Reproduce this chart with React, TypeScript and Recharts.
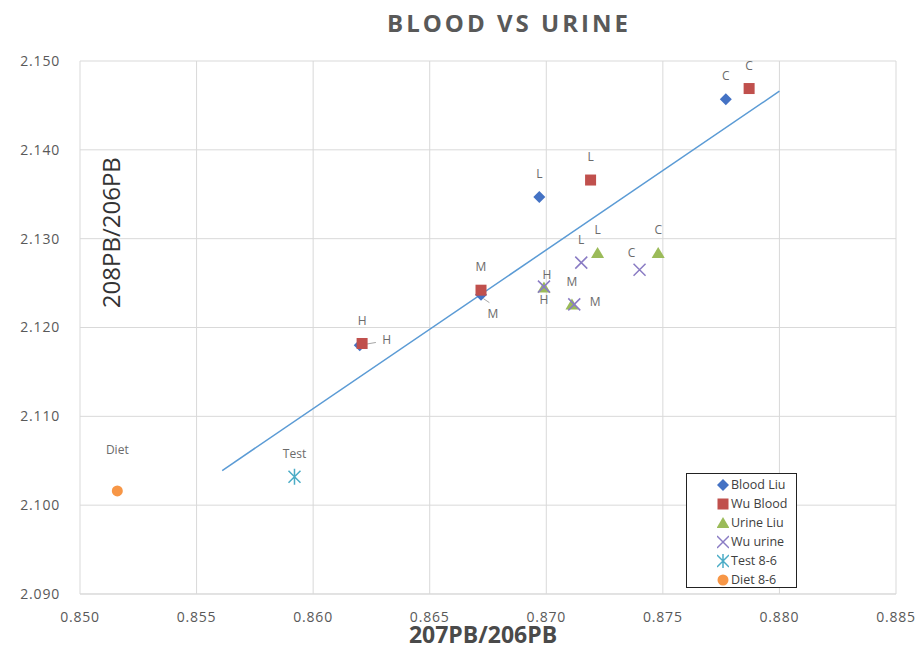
import React from 'react';
import { ScatterChart, Scatter, XAxis, YAxis, CartesianGrid } from 'recharts';

const bloodLiuX = [0.8777, 0.8697, 0.8672, 0.862];
const bloodLiuY = [2.1457, 2.1347, 2.1237, 2.118];
const bloodLiuTags = ['C', 'L', 'M', 'H'];

const wuBloodX = [0.8787, 0.8719, 0.8672, 0.8621];
const wuBloodY = [2.1469, 2.1366, 2.1242, 2.1182];
const wuBloodTags = ['C', 'L', 'M', 'H'];

const urineLiuX = [0.8722, 0.8748, 0.8699, 0.8711];
const urineLiuY = [2.1284, 2.1284, 2.1245, 2.1226];
const urineLiuTags = ['L', 'C', 'H', 'M'];

const wuUrineX = [0.8715, 0.874, 0.8699, 0.8712];
const wuUrineY = [2.1273, 2.1265, 2.1246, 2.1226];
const wuUrineTags = ['L', 'C', 'H', 'M'];

const testX = [0.8592];
const testY = [2.1032];
const testTags = ['Test'];

const dietX = [0.8516];
const dietY = [2.1016];
const dietTags = ['Diet'];

const trendX = [0.8561, 0.88];
const trendY = [2.1039, 2.1466];

const xTicks = [0.85, 0.855, 0.86, 0.865, 0.87, 0.875, 0.88, 0.885];
const yTicks = [2.09, 2.1, 2.11, 2.12, 2.13, 2.14, 2.15];

const seriesNames = ['Blood Liu', 'Wu Blood', 'Urine Liu', 'Wu urine', 'Test 8-6', 'Diet 8-6'];

const build = (xs: number[], ys: number[], tags?: string[]) =>
  xs.map((x, i) => ({ x, y: ys[i], tag: tags ? tags[i] : '' }));

// label offsets relative to marker centre: [dx, dy, leader]
const placeDefault: [number, number, boolean] = [0, -22, false];
const placements: Record<string, Record<string, [number, number, boolean]>> = {
  'Blood Liu': { M: [12, 20, true], H: [23, -4, true] },
  'Urine Liu': { H: [3, -12, false] },
  'Wu urine': { H: [0, 14, false], M: [21, -2, false], C: [-8, -16, false] },
  'Diet 8-6': { Diet: [0, -40, false] },
};

const C = {
  blue: '#4472c4',
  red: '#c0504d',
  green: '#9bbb59',
  purple: '#8a7cc4',
  cyan: '#4bacc6',
  orange: '#f79646',
};

const Marker = ({ kind, cx, cy }: { kind: string; cx: number; cy: number }) => {
  switch (kind) {
    case 'Blood Liu':
      return <path d={`M${cx},${cy - 6}L${cx + 6},${cy}L${cx},${cy + 6}L${cx - 6},${cy}Z`} fill={C.blue} />;
    case 'Wu Blood':
      return <rect x={cx - 5.5} y={cy - 5.5} width={11} height={11} fill={C.red} />;
    case 'Urine Liu':
      return <path d={`M${cx},${cy - 6}L${cx + 6.5},${cy + 5}L${cx - 6.5},${cy + 5}Z`} fill={C.green} />;
    case 'Wu urine':
      return (
        <path d={`M${cx - 6},${cy - 6}L${cx + 6},${cy + 6}M${cx + 6},${cy - 6}L${cx - 6},${cy + 6}`} stroke={C.purple} strokeWidth={1.5} />
      );
    case 'Test 8-6':
      return (
        <path
          d={`M${cx - 6},${cy - 6}L${cx + 6},${cy + 6}M${cx + 6},${cy - 6}L${cx - 6},${cy + 6}M${cx},${cy - 8}L${cx},${cy + 8}`}
          stroke={C.cyan}
          strokeWidth={1.5}
        />
      );
    default:
      return <circle cx={cx} cy={cy} r={5.5} fill={C.orange} />;
  }
};

const makeShape = (kind: string) => (props: any) => {
  const { cx, cy, payload } = props;
  const [dx, dy, leader] = (placements[kind] && placements[kind][payload.tag]) || placeDefault;
  return (
    <g>
      <Marker kind={kind} cx={cx} cy={cy} />
      {leader && (
        <line x1={cx + dx * 0.2} y1={cy + dy * 0.2} x2={cx + dx * 0.7} y2={cy + dy * 0.7 - (dy > 0 ? 6 : 0)} stroke="#a6a6a6" strokeWidth={1} />
      )}
      <text
        x={cx + dx + (leader && dy < 0 ? 4 : 0)}
        y={cy + dy}
        textAnchor="middle"
        dominantBaseline="middle"
        fontSize={12}
        fontFamily="Open Sans"
        fill="#6b6b6b"
      >
        {payload.tag}
      </text>
    </g>
  );
};

const LegendBox = () => (
  <div
    style={{
      position: 'absolute',
      left: 686,
      top: 473,
      border: '1.5px solid #222',
      background: '#fff',
      width: 111,
      height: 115,
      padding: '1px 0 0 0',
      fontFamily: 'Open Sans',
      fontSize: 12.5,
      color: '#404040',
      boxSizing: 'border-box',
    }}
  >
    {seriesNames.map((name) => (
      <div key={name} style={{ display: 'flex', alignItems: 'center', height: 19, paddingLeft: 30 }}>
        <svg width={12} height={14} style={{ marginRight: 2 }}>
          <Marker kind={name} cx={6} cy={7} />
        </svg>
        <span>{name}</span>
      </div>
    ))}
  </div>
);

const YTitle = (props: any) => {
  const vb = props.viewBox;
  const cx = vb.x + vb.width + 34;
  const cy = vb.y + vb.height / 3 - 6;
  return (
    <text x={cx} y={cy} transform={`rotate(-90 ${cx} ${cy})`} textAnchor="middle" dominantBaseline="middle" fontSize={24} fontFamily="Open Sans" fill="#333333">
      208PB/206PB
    </text>
  );
};

const XTitle = (props: any) => {
  const vb = props.viewBox;
  const cx = vb.x + vb.width / 2 - 5;
  return (
    <text x={cx} y={637} textAnchor="middle" dominantBaseline="middle" fontSize={23} fontWeight="bold" fontFamily="Open Sans" fill="#4a4a4a">
      207PB/206PB
    </text>
  );
};

export default function App() {
  const tick = { fontSize: 14, fill: '#595959', fontFamily: 'Open Sans', letterSpacing: 0.8 };
  return (
    <div style={{ position: 'absolute', left: 0, top: 0, width: 916, height: 650, background: '#fff' }}>
      <div
        style={{
          position: 'absolute',
          left: 0,
          top: 6,
          width: 1018,
          textAlign: 'center',
          fontFamily: 'Open Sans',
          fontWeight: 'bold',
          fontSize: 24,
          letterSpacing: 3,
          color: '#595959',
        }}
      >
        BLOOD VS URINE
      </div>
      <ScatterChart width={916} height={650} margin={{ top: 61, right: 20, bottom: 0, left: 0 }}>
        <CartesianGrid stroke="#d9d9d9" strokeWidth={1} />
        <XAxis
          type="number"
          dataKey="x"
          domain={[0.85, 0.885]}
          ticks={xTicks}
          tickFormatter={(v: number) => v.toFixed(3)}
          height={56}
          tickSize={0}
          tickMargin={18}
          axisLine={{ stroke: '#d9d9d9' }}
          tick={tick}
          label={{ content: XTitle }}
          allowDataOverflow
        />
        <YAxis
          type="number"
          dataKey="y"
          domain={[2.09, 2.15]}
          ticks={yTicks}
          tickFormatter={(v: number) => v.toFixed(3)}
          width={80}
          tickSize={0}
          tickMargin={20}
          axisLine={false}
          tick={tick}
          label={{ content: YTitle }}
          allowDataOverflow
        />
        <Scatter
          name="trend"
          data={build(trendX, trendY)}
          line={{ stroke: '#5b9bd5', strokeWidth: 1.5 }}
          shape={() => null}
          legendType="none"
          isAnimationActive={false}
        />
        <Scatter name="Diet 8-6" data={build(dietX, dietY, dietTags)} shape={makeShape('Diet 8-6')} isAnimationActive={false} />
        <Scatter name="Test 8-6" data={build(testX, testY, testTags)} shape={makeShape('Test 8-6')} isAnimationActive={false} />
        <Scatter name="Urine Liu" data={build(urineLiuX, urineLiuY, urineLiuTags)} shape={makeShape('Urine Liu')} isAnimationActive={false} />
        <Scatter name="Wu urine" data={build(wuUrineX, wuUrineY, wuUrineTags)} shape={makeShape('Wu urine')} isAnimationActive={false} />
        <Scatter name="Blood Liu" data={build(bloodLiuX, bloodLiuY, bloodLiuTags)} shape={makeShape('Blood Liu')} isAnimationActive={false} />
        <Scatter name="Wu Blood" data={build(wuBloodX, wuBloodY, wuBloodTags)} shape={makeShape('Wu Blood')} isAnimationActive={false} />
      </ScatterChart>
      <LegendBox />
    </div>
  );
}
